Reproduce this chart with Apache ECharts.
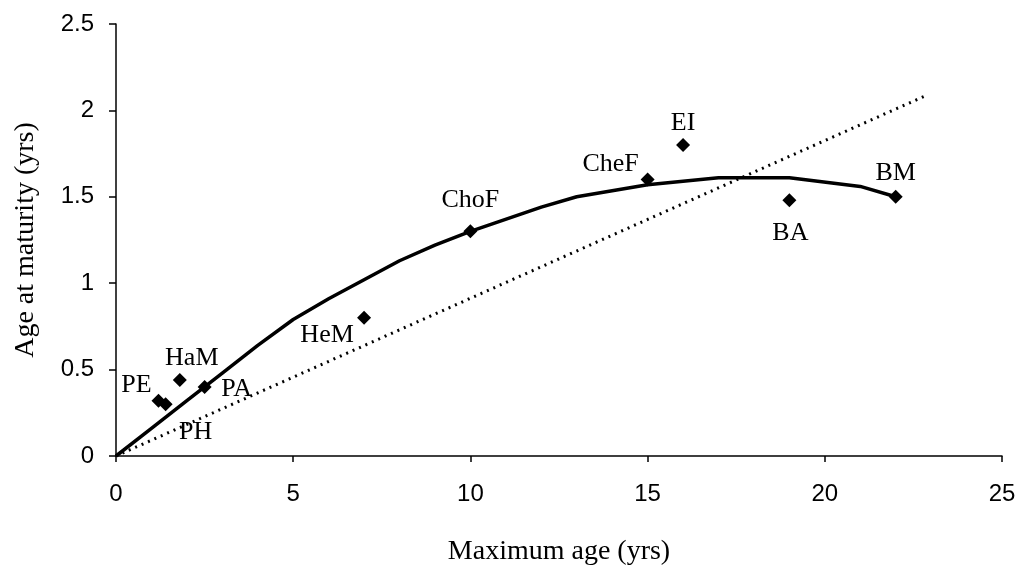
<!DOCTYPE html>
<html>
<head>
<meta charset="utf-8">
<script src="https://cdn.jsdelivr.net/npm/echarts@6/dist/echarts.min.js"></script>
<style>
  html, body { margin: 0; padding: 0; background: #fff; }
  #chart { width: 1032px; height: 571px; }
</style>
</head>
<body>
<div id="chart"></div>
<script>
// Species codes with their maximum age and age at maturity (years)
const species = ['PE', 'PH', 'HaM', 'PA', 'HeM', 'ChoF', 'CheF', 'EI', 'BA', 'BM'];
const maxAge = [1.2, 1.4, 1.8, 2.5, 7, 10, 15, 16, 19, 22];
const maturityAge = [0.32, 0.30, 0.44, 0.40, 0.80, 1.30, 1.60, 1.80, 1.48, 1.50];

// Fitted curve (solid)
const fitX = [0, 1, 2, 3, 4, 5, 6, 7, 8, 9, 10, 12, 13, 15, 16, 17, 19, 21, 22];
const fitY = [0, 0.16, 0.32, 0.48, 0.64, 0.79, 0.91, 1.02, 1.13, 1.22, 1.30, 1.44, 1.50, 1.57, 1.59, 1.61, 1.61, 1.56, 1.50];

// Reference line (dotted)
const refX = [0, 22.9];
const refY = [0, 2.09];

// Label offsets (px) from each marker's centre
const labelOffset = {
  PE:   [-22, -16],
  PH:   [30, 28],
  HaM:  [12, -22],
  PA:   [32, 2],
  HeM:  [-37, 17],
  ChoF: [0, -31],
  CheF: [-37, -15],
  EI:   [0, -22],
  BA:   [1, 33],
  BM:   [0, -24]
};

const points = species.map((s, i) => ({
  value: [maxAge[i], maturityAge[i]],
  name: s,
  label: { position: 'inside', offset: labelOffset[s] }
}));

const chart = echarts.init(document.getElementById('chart'), null, { renderer: 'canvas' });

const sans = 'Liberation Sans, Arial, sans-serif';
const serif = 'Liberation Serif, Times New Roman, serif';

chart.setOption({
  animation: false,
  backgroundColor: '#fff',
  grid: { left: 116, top: 24, right: 30, bottom: 114, containLabel: false },
  xAxis: {
    type: 'value', min: 0, max: 25, interval: 5,
    name: 'Maximum age (yrs)', nameLocation: 'middle', nameGap: 82,
    nameTextStyle: { fontFamily: serif, fontSize: 28, color: '#000' },
    axisLine: { show: true, lineStyle: { color: '#000', width: 1.5 } },
    axisTick: { show: true, inside: false, length: 6, lineStyle: { color: '#000', width: 1.5 } },
    axisLabel: { fontFamily: sans, fontSize: 24, color: '#000', margin: 26 },
    splitLine: { show: false }
  },
  yAxis: {
    type: 'value', min: 0, max: 2.5, interval: 0.5,
    name: 'Age at maturity (yrs)', nameLocation: 'middle', nameGap: 76, nameRotate: 90,
    nameTextStyle: { fontFamily: serif, fontSize: 28, color: '#000' },
    axisLine: { show: true, lineStyle: { color: '#000', width: 1.5 } },
    axisTick: { show: true, inside: false, length: 7, lineStyle: { color: '#000', width: 1.5 } },
    axisLabel: { fontFamily: sans, fontSize: 24, color: '#000', margin: 22 },
    splitLine: { show: false }
  },
  series: [
    {
      type: 'line',
      data: refX.map((x, i) => [x, refY[i]]),
      showSymbol: false,
      lineStyle: { color: '#000', width: 3, type: [2, 5] },
      z: 2
    },
    {
      type: 'line',
      data: fitX.map((x, i) => [x, fitY[i]]),
      showSymbol: false,
      lineStyle: { color: '#000', width: 3.5 },
      z: 3
    },
    {
      type: 'scatter',
      data: points,
      symbol: 'diamond',
      symbolSize: [14, 14],
      itemStyle: { color: '#000', opacity: 1 },
      label: {
        show: true,
        formatter: p => p.name,
        fontFamily: serif,
        fontSize: 26,
        color: '#000'
      },
      z: 4
    }
  ]
});
</script>
</body>
</html>
